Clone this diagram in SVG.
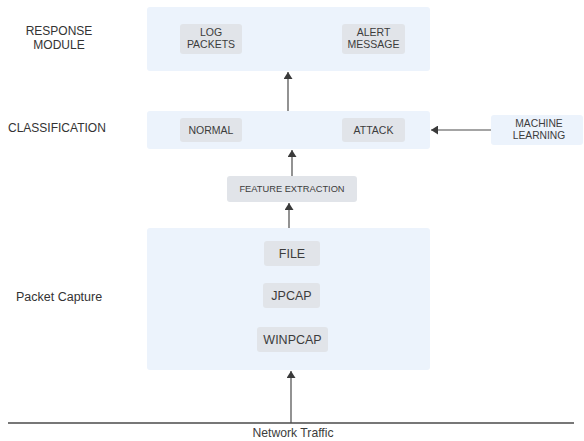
<svg xmlns="http://www.w3.org/2000/svg" width="584" height="441" viewBox="0 0 584 441">
<style>
.grp{fill:#ecf3fc;}
.item{fill:#e1e4e9;}
.t{font-family:"Liberation Sans",Arial,sans-serif;fill:#3c3c3c;text-anchor:middle;}
.lbl{font-family:"Liberation Sans",Arial,sans-serif;fill:#333;font-size:12px;}
.c{stroke:#4a4a4a;stroke-width:1.2;fill:none;}
</style>
<defs>
<marker id="ah" viewBox="0 0 10 10" refX="10" refY="5" markerWidth="7" markerHeight="9" markerUnits="userSpaceOnUse" orient="auto" preserveAspectRatio="none">
<path d="M0,0 L10,5 L0,10 z" fill="#3a3a3a"/>
</marker>
</defs>
<rect width="584" height="441" fill="#ffffff"/>

<g id="label-response">
<text class="lbl" x="59" y="35" text-anchor="middle">RESPONSE</text>
<text class="lbl" x="59" y="49" text-anchor="middle">MODULE</text>
</g>
<g id="label-classification"><text class="lbl" x="8" y="132">CLASSIFICATION</text></g>
<g id="label-packet"><text class="lbl" x="16" y="301" style="font-size:12.5px">Packet Capture</text></g>

<g id="response-module">
<rect class="grp" x="147" y="7" width="283" height="64" rx="3"/>
<g id="log-packets">
<rect class="item" x="180" y="24" width="62" height="30" rx="3"/>
<text class="t" x="211" y="36" font-size="10.5">LOG</text>
<text class="t" x="211" y="48" font-size="10.5">PACKETS</text>
</g>
<g id="alert-message">
<rect class="item" x="342" y="24" width="63" height="30" rx="3"/>
<text class="t" x="373.5" y="36" font-size="10.5">ALERT</text>
<text class="t" x="373.5" y="48" font-size="10.5">MESSAGE</text>
</g>
</g>

<g id="classification">
<rect class="grp" x="147" y="111" width="283" height="38" rx="3"/>
<g id="normal">
<rect class="item" x="180" y="118" width="62" height="24" rx="3"/>
<text class="t" x="211" y="133.5" font-size="10.5">NORMAL</text>
</g>
<g id="attack">
<rect class="item" x="342" y="118" width="63" height="24" rx="3"/>
<text class="t" x="373.5" y="133.5" font-size="10.5">ATTACK</text>
</g>
</g>

<g id="machine-learning">
<rect class="grp" x="491" y="115" width="92" height="30" rx="3"/>
<text class="t" x="539" y="126.5" font-size="10.3">MACHINE</text>
<text class="t" x="539" y="138.5" font-size="10.3">LEARNING</text>
</g>

<g id="feature-extraction">
<rect class="item" x="227" y="176" width="130" height="26" rx="3"/>
<text class="t" x="292" y="192" font-size="9.3">FEATURE EXTRACTION</text>
</g>

<g id="packet-capture">
<rect class="grp" x="147" y="228" width="283" height="142" rx="3"/>
<g id="file">
<rect class="item" x="264" y="241" width="56" height="25" rx="3"/>
<text class="t" x="292" y="258" font-size="12.5">FILE</text>
</g>
<g id="jpcap">
<rect class="item" x="263" y="283" width="57" height="25" rx="3"/>
<text class="t" x="291.5" y="300" font-size="12.5">JPCAP</text>
</g>
<g id="winpcap">
<rect class="item" x="257" y="327" width="71" height="25" rx="3"/>
<text class="t" x="292.5" y="344" font-size="12.5">WINPCAP</text>
</g>
</g>

<g id="network-traffic">
<line x1="8" y1="423" x2="574" y2="423" stroke="#4a4a4a" stroke-width="1.3"/>
<text class="t" x="293" y="437" font-size="12.2">Network Traffic</text>
</g>

<g id="connectors">
<line class="c" x1="291" y1="423" x2="291" y2="371" marker-end="url(#ah)"/>
<line class="c" x1="289" y1="228" x2="289" y2="203" marker-end="url(#ah)"/>
<line class="c" x1="292" y1="176" x2="292" y2="150" marker-end="url(#ah)"/>
<line class="c" x1="288" y1="111" x2="288" y2="72" marker-end="url(#ah)"/>
<line class="c" x1="491" y1="130" x2="431" y2="130" marker-end="url(#ah)"/>
</g>
</svg>
